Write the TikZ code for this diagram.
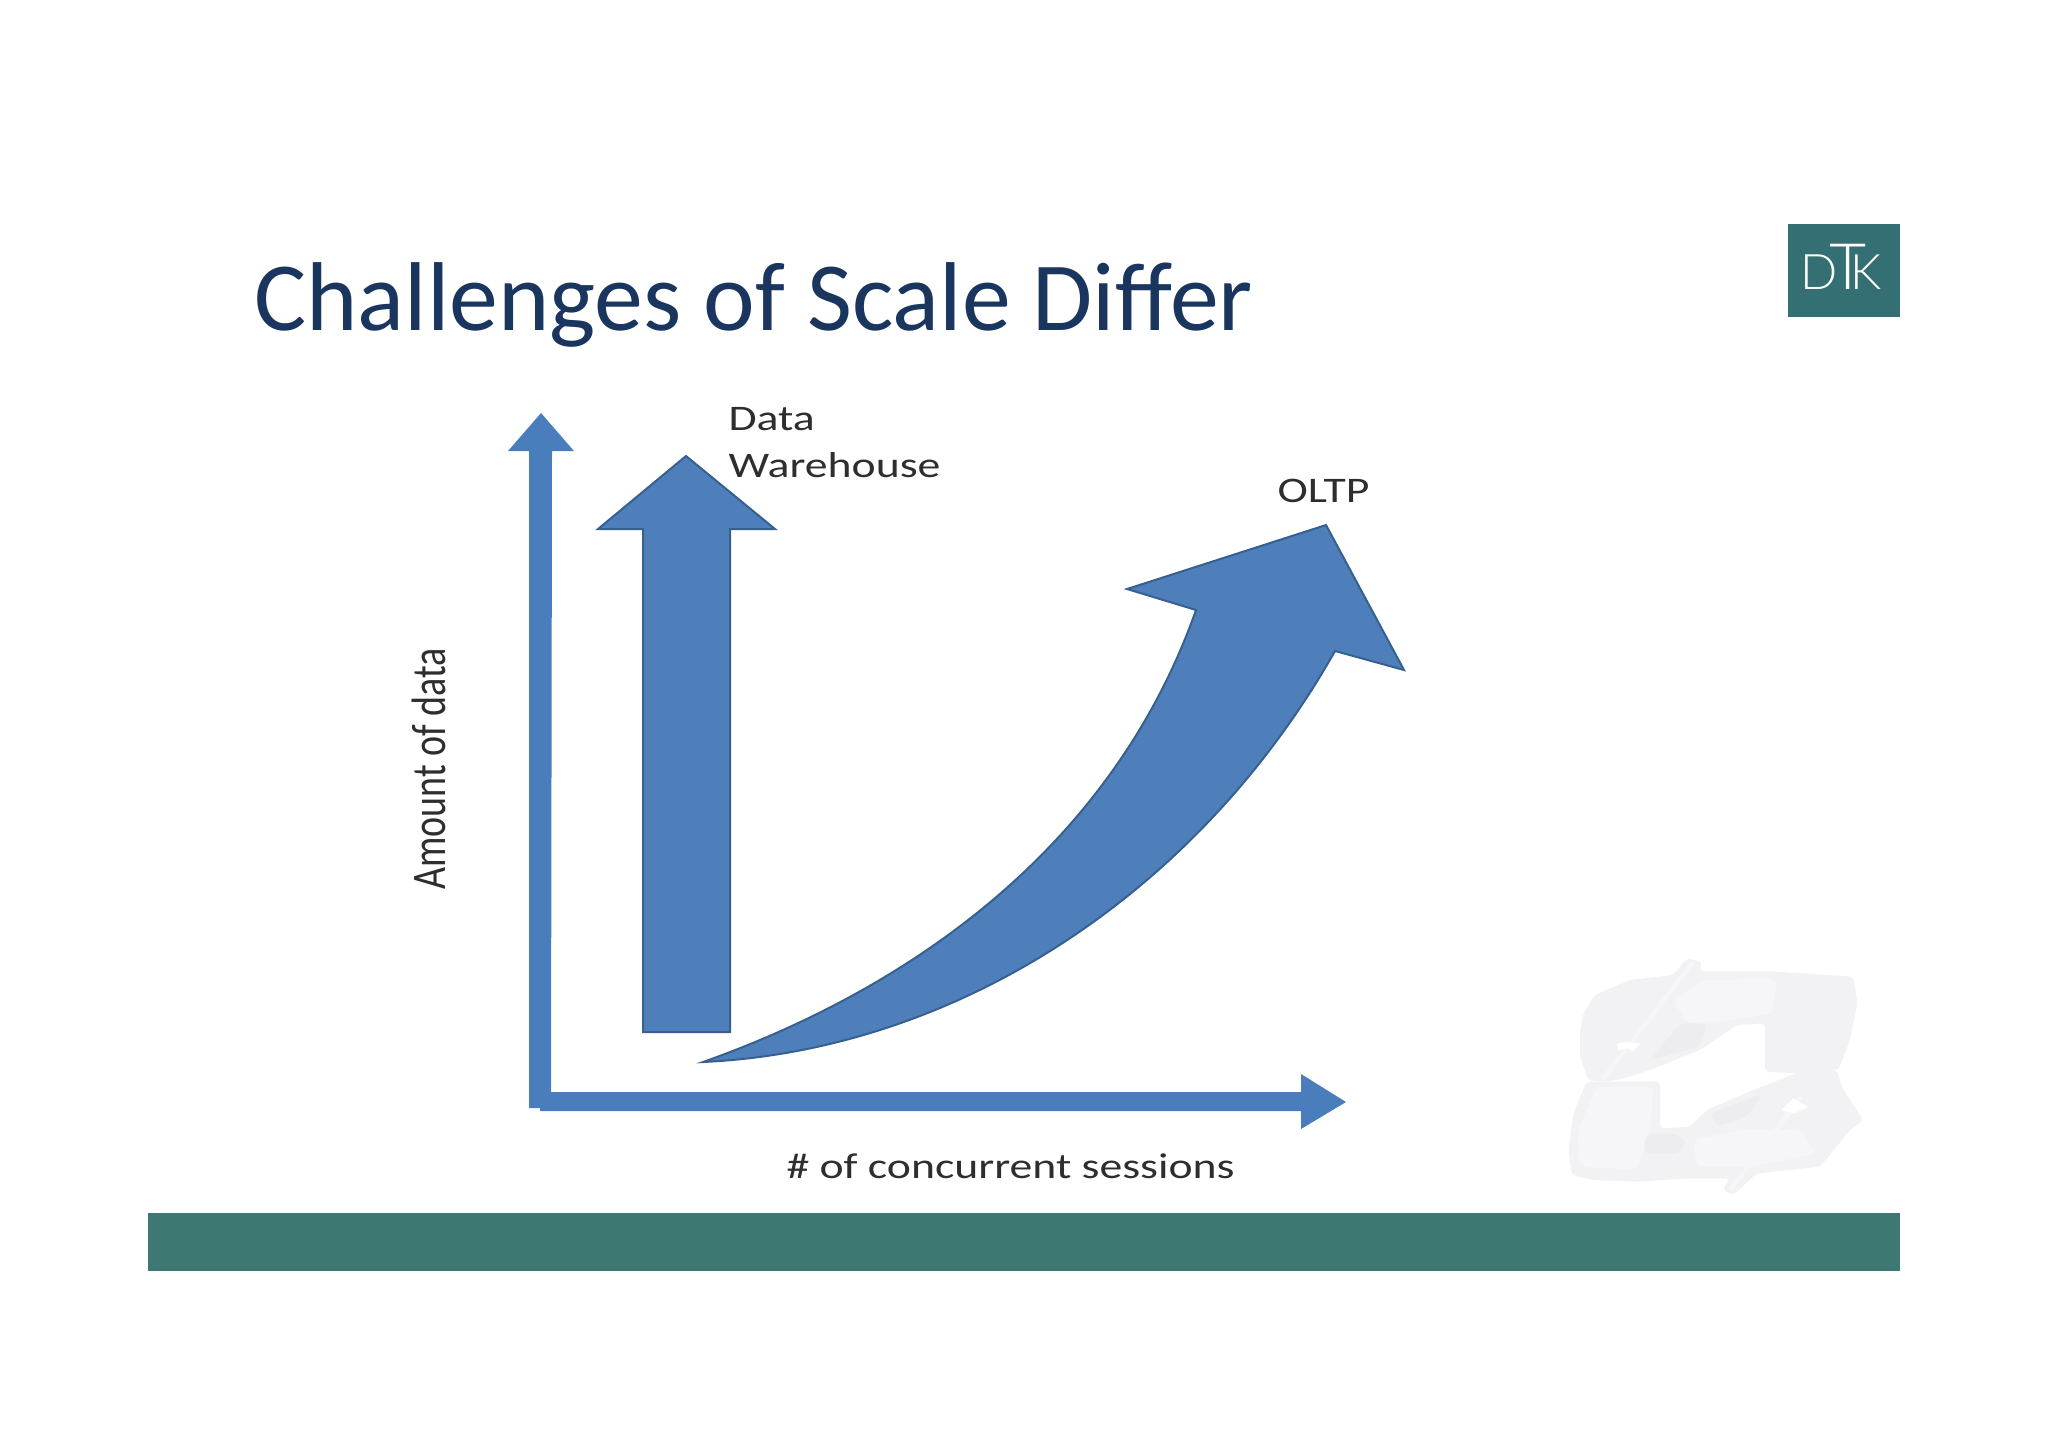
\documentclass[tikz,border=0pt]{standalone}
\usepackage{fontspec}
\setmainfont{Carlito}
\newfontfamily\logofont{Lato Light}
\definecolor{titleblue}{HTML}{1A365F}
\definecolor{axisblue}{HTML}{4A7DBB}
\definecolor{fillblue}{HTML}{4F7FBB}
\definecolor{edgeblue}{HTML}{36608F}
\definecolor{barteal}{HTML}{3D7872}
\definecolor{logoteal}{HTML}{336F73}
\definecolor{labelgray}{HTML}{2E2E2E}
\definecolor{markgray}{HTML}{F2F1F4}
\definecolor{markdark}{HTML}{EDEDEF}
\definecolor{marklight}{HTML}{F6F5F8}
\tikzset{
        axisshape/.style = {fill=axisblue},
        growth/.style = {fill=fillblue, draw=edgeblue, line width=1pt, line join=miter},
        chartlabel/.style = {font=\fontsize{18}{22}\selectfont, text=labelgray, inner sep=0pt, anchor=base west, xscale=1.27, transform shape},
        logotext/.style = {text=white, inner sep=0pt, anchor=base west},
        markbody/.style = {fill=markgray, rounded corners=2pt},
        markshade/.style = {fill=markdark, rounded corners=3pt},
        marklit/.style = {fill=marklight, rounded corners=3pt},
    }

\begin{document}
\begin{tikzpicture}[x=0.5pt, y=-0.5pt]
    \useasboundingbox (0,0) rectangle (2048,1447);

    \node [inner sep=0pt, anchor=base west, text=titleblue, font=\fontsize{48.9}{58}\selectfont] (title) at (254,330) {Challenges of Scale Differ};

    \fill [logoteal] (1788,224) rectangle (1900,317);
    \node [logotext, font=\logofont\fontsize{24.5}{28}\selectfont] (logo) at (1800,289) {D\kern-4pt\fontsize{32}{36}\selectfont T\kern-8pt\fontsize{24.5}{28}\selectfont K};

    \fill [barteal] (148,1213) rectangle (1900,1271);

    \begin{scope}[shift={(1500,900)}, x=0.16667pt, y=-0.16667pt]
        \fill [markbody] (285,285) -- (390,240) -- (520,225) -- (560,175) -- (605,185) -- (600,215) -- (830,215) -- (1060,230) -- (1072,310) -- (1050,420) -- (1015,510) -- (870,520) -- (795,515) -- (795,370) -- (710,375) -- (600,450) -- (450,510) -- (355,540) -- (300,545) -- (265,540) -- (240,470) -- (240,400) -- (250,340) -- cycle;
        \fill [markbody] (300,545) -- (480,545) -- (480,685) -- (570,680) -- (620,630) -- (760,570) -- (900,515) -- (1010,510) -- (1030,570) -- (1090,660) -- (1050,690) -- (960,800) -- (770,820) -- (700,885) -- (668,870) -- (690,835) -- (560,835) -- (420,845) -- (280,840) -- (215,825) -- (205,750) -- (220,640) -- (260,545) -- cycle;
        \fill [marklit] (520,300) -- (610,240) -- (830,235) -- (820,340) -- (700,360) -- (560,370) -- cycle;
        \fill [marklit] (290,560) -- (460,560) -- (450,690) -- (410,810) -- (240,800) -- (230,700) -- cycle;
        \fill [marklit] (580,720) -- (720,690) -- (900,690) -- (950,760) -- (760,800) -- (590,800) -- cycle;
        \fill [markshade] (440,700) -- (520,700) -- (560,720) -- (540,760) -- (430,760) -- cycle;
        \fill [markshade] (450,480) -- (540,370) -- (620,370) -- (600,440) -- cycle;
        \fill [markshade] (630,640) -- (790,580) -- (740,650) -- (650,680) -- cycle;
        \draw [marklight, line width=2.2pt] (580,185) -- (310,535);
        \draw [marklight, line width=2.2pt] (905,590) -- (690,870);
        \fill [white] (350,432) -- (375,425) -- (420,430) -- (400,455) -- (385,445) -- (355,450) -- cycle;
        \fill [white] (845,630) -- (880,595) -- (925,622) -- (880,640) -- cycle;
    \end{scope}

    \fill [axisshape] (529,1108) -- (529,451) -- (508,451) -- (541,413) -- (574,451) -- (552,451) -- (551,1092) -- (1301,1092) -- (1301,1074) -- (1346,1102) -- (1301,1129) -- (1301,1111) -- (540,1111) -- (540,1108) -- cycle;

    \draw [growth] (643,1032) -- (643,529) -- (598,529) -- (686,456) -- (775,529) -- (730,529) -- (730,1032) -- cycle;

    \draw [growth] (703,1062) .. controls (920,985) and (1115,840) .. (1196,610) -- (1127,589) -- (1326,525) -- (1404,670) -- (1335,651) .. controls (1200,890) and (960,1050) .. (703,1062) -- cycle;

    \node [chartlabel] (data) at (728,430) {Data};
    \node [chartlabel] (warehouse) at (728,477) {Warehouse};
    \node [chartlabel] (oltp) at (1277,502) {OLTP};
    \node [chartlabel] (sessions) at (786,1178) {\# of concurrent sessions};
    \node [chartlabel, anchor=center, xscale=1, rotate=90, font=\fontsize{19}{23}\selectfont] (amount) at (429,769) {Amount of data};
\end{tikzpicture}
\end{document}
